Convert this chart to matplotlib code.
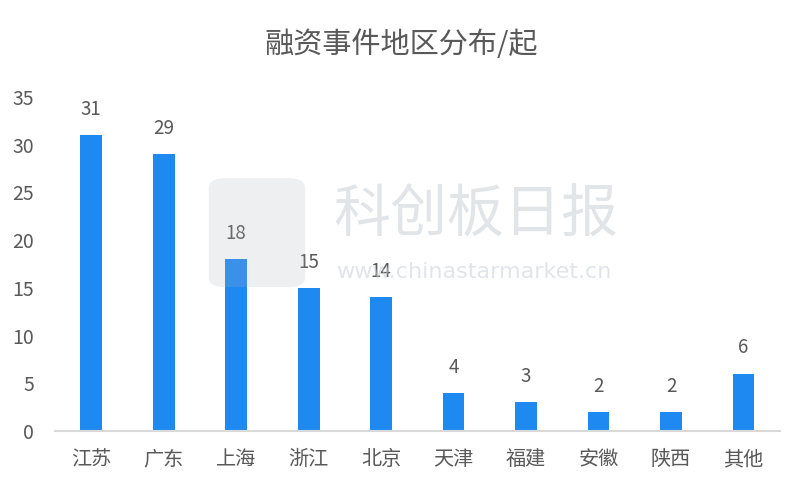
import matplotlib.pyplot as plt
import numpy as np
from matplotlib.patches import FancyBboxPatch

plt.rcParams["font.family"] = ["Noto Sans CJK SC", "DejaVu Sans"]

regions = ["江苏", "广东", "上海", "浙江", "北京", "天津", "福建", "安徽", "陕西", "其他"]
counts = [31, 29, 18, 15, 14, 4, 3, 2, 2, 6]
y_ticks = [0, 5, 10, 15, 20, 25, 30, 35]

bar_color = "#1F89F2"
text_color = "#595959"

fig = plt.figure(figsize=(8.03, 4.95), dpi=100)
ax = fig.add_axes([0.0685, 0.1293, 0.9025, 0.6747])

x = np.arange(len(regions))
rects = ax.bar(x, counts, width=0.3, color=bar_color, zorder=2)

for rect, val in zip(rects, counts):
    ax.annotate(
        str(val),
        xy=(rect.get_x() + rect.get_width() / 2, rect.get_height()),
        xytext=(0, 11),
        textcoords="offset points",
        ha="center",
        va="bottom",
        fontsize=13.5,
        color=text_color,
    )

ax.set_xlim(-0.5, len(regions) - 0.5)
ax.set_ylim(0, 35)
ax.set_yticks(y_ticks)
ax.set_yticklabels([str(t) for t in y_ticks], fontsize=14, color=text_color)
ax.set_xticks(x)
ax.set_xticklabels(regions, fontsize=14.5, color=text_color)
ax.tick_params(axis="both", length=0)
ax.tick_params(axis="x", pad=13)
ax.tick_params(axis="y", pad=15)
for side in ["top", "right", "left"]:
    ax.spines[side].set_visible(False)
ax.spines["bottom"].set_color("#D9D9D9")
ax.spines["bottom"].set_linewidth(1.5)

fig.text(0.5, 0.91, "融资事件地区分布/起", ha="center", va="center",
         fontsize=21, color=text_color)

# watermark
logo = FancyBboxPatch((0.26, 0.42), 0.12, 0.22, boxstyle="round,pad=0,rounding_size=0.02",
                      transform=fig.transFigure, facecolor="#A8B2BC", alpha=0.2,
                      edgecolor="none", zorder=5)
fig.patches.append(logo)
fig.text(0.415, 0.565, "科创板日报", fontsize=41, color="#C5CCD3", alpha=0.5,
         ha="left", va="center", zorder=6)
fig.text(0.418, 0.45, "www.chinastarmarket.cn", fontsize=16, color="#C5CCD3",
         alpha=0.5, ha="left", va="center", zorder=6, family="DejaVu Sans")

fig.savefig("out.png", dpi=100)
